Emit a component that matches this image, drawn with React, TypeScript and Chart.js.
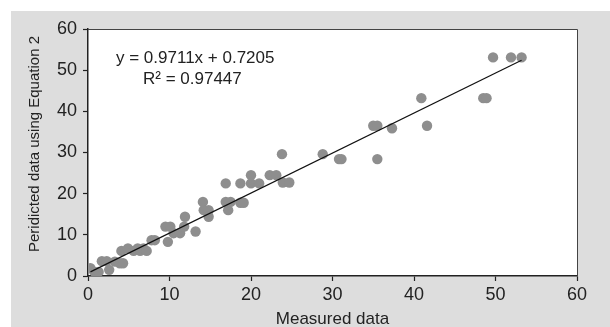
import React, { useEffect, useRef } from "react";
import { Chart, registerables } from "chart.js";

Chart.register(...registerables);

// Measured (x) vs predicted (y) values
const measured = [
  0.3, 0.8, 1.3, 1.7, 2.3, 2.6, 3.3, 3.9, 4.3, 4.1,
  4.9, 5.6, 6.1, 6.4, 6.8, 7.2, 7.8, 8.2, 9.5, 9.8,
  10.1, 10.5, 11.3, 11.8, 11.9, 13.2, 14.1, 14.2, 14.8, 14.8,
  16.9, 16.9, 17.2, 17.5, 18.7, 18.7, 19.1, 20.0, 20.0, 21.0,
  22.3, 23.1, 23.9, 24.7, 23.8, 28.8, 30.8, 31.1, 35.0, 35.5,
  35.5, 37.3, 40.9, 41.6, 48.5, 48.9, 49.7, 51.9, 53.2,
];
const predicted = [
  1.9, 1.0, 1.0, 3.6, 3.6, 1.5, 3.5, 3.1, 3.1, 6.1,
  6.7, 6.1, 6.7, 6.1, 6.7, 6.1, 8.7, 8.7, 12.0, 8.3,
  12.0, 10.4, 10.4, 12.0, 14.4, 10.8, 18.0, 16.0, 16.0, 14.4,
  22.5, 18.0, 16.0, 18.0, 22.5, 17.8, 17.8, 24.5, 22.5, 22.5,
  24.5, 24.5, 22.7, 22.7, 29.6, 29.6, 28.4, 28.4, 36.5, 36.5,
  28.4, 35.9, 43.2, 36.5, 43.2, 43.2, 53.1, 53.1, 53.1,
];
// Trend line end points
const trendX = [0.3, 53.2];
const trendY = [1.0, 52.4];

const axisMin = 0;
const axisMax = 60;
const axisStep = 10;

const xTitle = "Measured data";
const yTitle = "Peridicted data using Equation 2";
const eqLine1 = "y = 0.9711x + 0.7205";
const eqLine2 = "R² = 0.97447";

const FONT = "'Liberation Sans', Arial, Helvetica, sans-serif";
const TEXT = "#222222";

const decor = {
  id: "decor",
  beforeDraw(chart: any) {
    const { ctx, chartArea } = chart;
    const { left, top, right, bottom } = chartArea;
    ctx.save();
    ctx.fillStyle = "#ffffff";
    ctx.fillRect(left, top, right - left, bottom - top);
    ctx.restore();
  },
  afterDraw(chart: any) {
    const { ctx, chartArea } = chart;
    const { left, top, right, bottom } = chartArea;
    ctx.save();
    ctx.strokeStyle = "#444444";
    ctx.lineWidth = 1;
    ctx.beginPath();
    ctx.moveTo(left, top + 0.5);
    ctx.lineTo(right + 0.5, top + 0.5);
    ctx.lineTo(right + 0.5, bottom);
    ctx.stroke();

    ctx.fillStyle = TEXT;
    ctx.font = `17px ${FONT}`;
    ctx.textBaseline = "alphabetic";
    ctx.textAlign = "left";
    ctx.fillText(eqLine1, 116, 63);
    ctx.fillText(eqLine2, 143, 83.5);

    ctx.font = `15px ${FONT}`;
    ctx.translate(35, 144);
    ctx.rotate(-Math.PI / 2);
    ctx.textAlign = "center";
    ctx.textBaseline = "middle";
    ctx.fillText(yTitle, 0, 0);
    ctx.restore();
  },
};

export default function App() {
  const ref = useRef<HTMLCanvasElement | null>(null);

  useEffect(() => {
    if (!ref.current) return;
    const points = measured.map((x, i) => ({ x, y: predicted[i] }));
    const trend = trendX.map((x, i) => ({ x, y: trendY[i] }));
    const chart = new Chart(ref.current, {
      type: "scatter",
      data: {
        datasets: [
          {
            type: "line",
            label: "Trend",
            data: trend,
            borderColor: "#111111",
            borderWidth: 1.2,
            pointRadius: 0,
            fill: false,
          },
          {
            label: "Data",
            data: points,
            backgroundColor: "#8e8e8e",
            borderWidth: 0,
            pointRadius: 5.2,
            pointHoverRadius: 5.2,
          },
        ],
      },
      options: {
        animation: false,
        responsive: false,
        devicePixelRatio: 1,
        layout: { padding: { left: 0, top: 29, right: 33, bottom: 0 } },
        plugins: {
          legend: { display: false },
          tooltip: { enabled: false },
        },
        scales: {
          x: {
            type: "linear",
            min: axisMin,
            max: axisMax,
            ticks: {
              stepSize: axisStep,
              color: TEXT,
              padding: 3,
              font: { family: FONT, size: 18 },
              maxRotation: 0,
            },
            grid: {
              drawOnChartArea: false,
              drawTicks: true,
              tickLength: 5,
              color: "#222222",
              tickWidth: 1.2,
            },
            border: { display: true, color: "#222222", width: 1.5 },
            title: {
              display: true,
              text: xTitle,
              color: TEXT,
              font: { family: FONT, size: 17, lineHeight: 1 },
              padding: { top: 0, bottom: -1 },
            },
            afterFit: (s: any) => {
              s.height = 51;
            },
          },
          y: {
            type: "linear",
            min: axisMin,
            max: axisMax,
            ticks: {
              stepSize: axisStep,
              color: TEXT,
              padding: 6,
              font: { family: FONT, size: 18 },
            },
            grid: {
              drawOnChartArea: false,
              drawTicks: true,
              tickLength: 5,
              color: "#222222",
              tickWidth: 1.2,
            },
            border: { display: true, color: "#222222", width: 1.5 },
            title: { display: false },
            afterFit: (s: any) => {
              s.width = 88;
            },
          },
        },
      },
      plugins: [decor],
    });
    return () => chart.destroy();
  }, []);

  return (
    <div style={{ position: "absolute", left: 0, top: 0, width: 610, height: 327, overflow: "hidden" }}>
      <div
        style={{
          position: "absolute",
          left: 11,
          top: 11,
          width: 599,
          height: 316,
          background: "#dddddd",
        }}
      />
      <canvas
        ref={ref}
        width={610}
        height={327}
        style={{ position: "absolute", left: 0, top: 0, width: 610, height: 327 }}
      />
    </div>
  );
}
